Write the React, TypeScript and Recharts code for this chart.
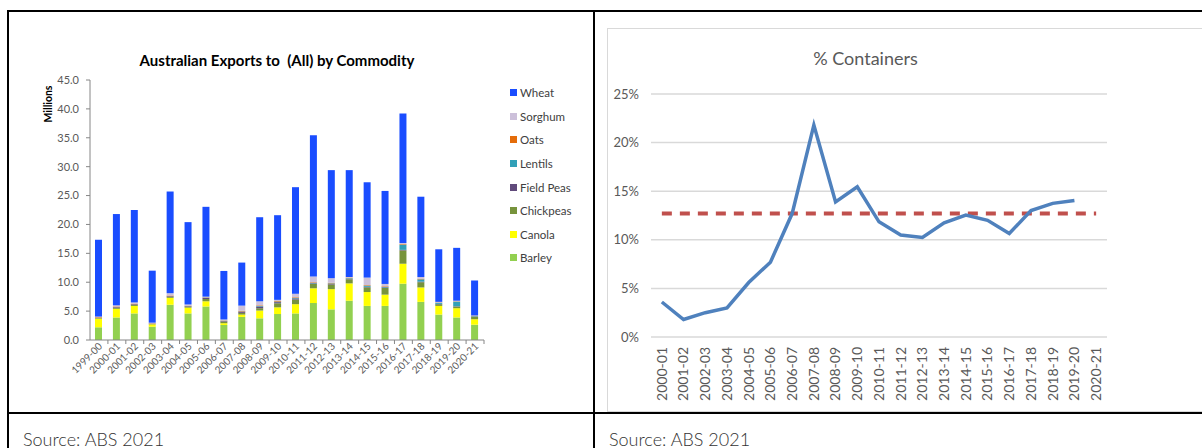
import {
  Bar,
  BarChart,
  CartesianGrid,
  Line,
  LineChart,
  ReferenceLine,
  XAxis,
  YAxis,
} from "recharts";

// ---- Left chart: Australian exports by commodity (millions of tonnes) ----
const exportYears = [
  "1999-00", "2000-01", "2001-02", "2002-03", "2003-04", "2004-05", "2005-06", "2006-07",
  "2007-08", "2008-09", "2009-10", "2010-11", "2011-12", "2012-13", "2013-14", "2014-15",
  "2015-16", "2016-17", "2017-18", "2018-19", "2019-20", "2020-21",
];
const barley = [2.2, 3.9, 4.6, 2.3, 6.1, 4.6, 5.8, 2.6, 4.0, 3.75, 4.5, 4.6, 6.4, 5.3, 6.8, 5.9, 5.9, 9.75, 6.6, 4.4, 3.9, 2.65];
const canola = [1.5, 1.5, 1.3, 0.4, 1.2, 1.0, 0.9, 0.3, 0.4, 1.35, 1.15, 1.6, 2.55, 3.5, 3.0, 2.4, 1.95, 3.45, 2.5, 1.5, 1.6, 0.95];
const chickpeas = [0.1, 0.2, 0.2, 0.1, 0.2, 0.2, 0.4, 0.3, 0.3, 0.4, 0.7, 0.8, 0.75, 0.8, 0.7, 0.8, 1.15, 2.3, 0.9, 0.3, 0.3, 0.45];
const fieldPeas = [0.05, 0.1, 0.1, 0.05, 0.1, 0.1, 0.2, 0.1, 0.2, 0.3, 0.2, 0.2, 0.1, 0.1, 0.1, 0.1, 0.1, 0.1, 0.1, 0.05, 0.05, 0.05];
const lentils = [0, 0, 0, 0, 0, 0, 0.05, 0.05, 0.05, 0.1, 0.1, 0.1, 0.1, 0.1, 0.1, 0.2, 0.1, 0.9, 0.4, 0.2, 0.8, 0.05];
const oats = [0.1, 0.1, 0.1, 0.05, 0.1, 0.05, 0.05, 0.05, 0.1, 0.1, 0.1, 0.1, 0.1, 0.1, 0.1, 0.1, 0.1, 0.1, 0.1, 0.05, 0.05, 0.05];
const sorghum = [0.1, 0.2, 0.2, 0.1, 0.4, 0.2, 0.1, 0.15, 0.9, 0.7, 0.2, 0.6, 1.0, 0.8, 0.1, 1.3, 0.4, 0.2, 0.3, 0.1, 0.1, 0.05];
const wheat = [13.3, 15.8, 16.0, 9.0, 17.6, 14.25, 15.55, 8.4, 7.45, 14.55, 14.65, 18.45, 24.45, 18.7, 18.5, 16.5, 16.1, 22.4, 13.9, 9.1, 9.15, 6.05];
const exportTicks = [0, 5, 10, 15, 20, 25, 30, 35, 40, 45];

// stacking order bottom -> top
const commodities = [
  { key: "Barley", values: barley, color: "#92d050" },
  { key: "Canola", values: canola, color: "#ffff00" },
  { key: "Chickpeas", values: chickpeas, color: "#77933c" },
  { key: "Field Peas", values: fieldPeas, color: "#604a7b" },
  { key: "Lentils", values: lentils, color: "#31a0b8" },
  { key: "Oats", values: oats, color: "#e46c0a" },
  { key: "Sorghum", values: sorghum, color: "#ccc0da" },
  { key: "Wheat", values: wheat, color: "#1a4dff" },
];

const exportRows = exportYears.map((year, i) => {
  const row: Record<string, string | number> = { year };
  commodities.forEach((c) => {
    row[c.key] = c.values[i];
  });
  return row;
});

// ---- Right chart: % containers ----
const containerYears = [
  "2000-01", "2001-02", "2002-03", "2003-04", "2004-05", "2005-06", "2006-07", "2007-08",
  "2008-09", "2009-10", "2010-11", "2011-12", "2012-13", "2013-14", "2014-15", "2015-16",
  "2016-17", "2017-18", "2018-19", "2019-20", "2020-21",
];
const containerPct = [3.6, 1.8, 2.5, 3.0, 5.6, 7.7, 12.7, 21.8, 13.9, 15.45, 11.85, 10.5, 10.25, 11.75, 12.55, 12.0, 10.65, 13.0, 13.75, 14.05, null];
const averagePct = 12.7;
const pctTicks = [0, 5, 10, 15, 20, 25];

const containerRows = containerYears.map((year, i) => ({ year, pct: containerPct[i] }));

const LEFT_W = 594;
const LEFT_H = 412;
const LEFT_PLOT_W = 394;
const HALF_BAND = LEFT_PLOT_W / exportYears.length / 2;

const RIGHT_PLOT_W = 456;
const RIGHT_HALF_BAND = RIGHT_PLOT_W / containerYears.length / 2;

const ExportTick = (props: any) => {
  const { x, y, payload } = props;
  return (
    <g>
      <line x1={x + HALF_BAND} x2={x + HALF_BAND} y1={y} y2={y + 4} stroke="#868686" />
      <text
        x={0}
        y={0}
        transform={`translate(${x + 4},${y + 7}) rotate(-45)`}
        textAnchor="end"
        fontSize={10}
        fill="#595959"
        fontFamily="Lato, sans-serif"
      >
        {payload.value}
      </text>
    </g>
  );
};

const ContainerTick = (props: any) => {
  const { x, y, payload } = props;
  return (
    <text
      x={0}
      y={0}
      dy="0.35em"
      transform={`translate(${x},${y + 10}) rotate(-90)`}
      textAnchor="end"
      fontSize={14}
      fill="#595959"
      fontFamily="Lato, sans-serif"
    >
      {payload.value}
    </text>
  );
};

const sourceStyle: React.CSSProperties = {
  position: "absolute",
  top: 428,
  fontFamily: "Lato, sans-serif",
  fontWeight: 300,
  fontSize: 18,
  color: "#333",
  whiteSpace: "nowrap",
};

function ExportsChart() {
  return (
    <div style={{ position: "absolute", left: 0, top: 0, width: LEFT_W, height: LEFT_H }}>
      <div
        style={{
          position: "absolute",
          left: 70,
          width: 414,
          top: 51,
          textAlign: "center",
          fontFamily: "Lato, sans-serif",
          fontWeight: 700,
          fontSize: 15,
          color: "#000",
          whiteSpace: "nowrap",
        }}
      >
        Australian Exports to&nbsp; (All) by Commodity
      </div>
      <BarChart
        width={LEFT_W}
        height={LEFT_H}
        data={exportRows}
        margin={{ top: 80, right: LEFT_W - 90 - LEFT_PLOT_W, bottom: 0, left: 40 }}
        barCategoryGap={0}
      >
        <XAxis
          dataKey="year"
          height={72}
          interval={0}
          tickSize={0}
          tickMargin={0}
          tickLine={false}
          axisLine={{ stroke: "#868686" }}
          tick={<ExportTick />}
        />
        <YAxis
          width={50}
          domain={[0, 45]}
          ticks={exportTicks}
          interval={0}
          tickSize={4}
          tickMargin={7}
          tickLine={{ stroke: "#868686" }}
          axisLine={{ stroke: "#868686" }}
          tickFormatter={(v) => Number(v).toFixed(1)}
          tick={{ fontSize: 11, fill: "#595959", fontFamily: "Lato, sans-serif" }}
          label={{
            content: (p: any) => (
              <text
                x={0}
                y={0}
                transform={`translate(${p.viewBox.x + 12},${p.viewBox.y + 24}) rotate(-90)`}
                textAnchor="middle"
                fontSize={10.5}
                fontWeight={700}
                fill="#000"
                fontFamily="Lato, sans-serif"
              >
                Millions
              </text>
            ),
          }}
        />
        {commodities.map((c) => (
          <Bar
            key={c.key}
            dataKey={c.key}
            stackId="exports"
            fill={c.color}
            barSize={7}
            isAnimationActive={false}
          />
        ))}
      </BarChart>
      <div style={{ position: "absolute", left: 510, top: 81, fontFamily: "Lato, sans-serif", fontSize: 11.5, color: "#404040" }}>
        {[...commodities].reverse().map((c) => (
          <div key={c.key} style={{ display: "flex", alignItems: "center", height: 23.6 }}>
            <span style={{ display: "inline-block", width: 7, height: 7, background: c.color, marginRight: 3 }} />
            {c.key}
          </div>
        ))}
      </div>
    </div>
  );
}

function ContainersChart() {
  return (
    <div style={{ position: "absolute", left: 608, top: 29, width: 594, height: 383 }}>
      <div
        style={{
          position: "absolute",
          left: 0,
          width: 515,
          top: 18,
          textAlign: "center",
          fontFamily: "Lato, sans-serif",
          fontSize: 18,
          color: "#595959",
          whiteSpace: "nowrap",
        }}
      >
        % Containers
      </div>
      <LineChart
        width={594}
        height={383}
        data={containerRows}
        margin={{ top: 65, right: 95, bottom: 0, left: 0 }}
      >
        <CartesianGrid vertical={false} stroke="#d9d9d9" strokeWidth={1.5} />
        <XAxis
          dataKey="year"
          height={75}
          interval={0}
          padding={{ left: RIGHT_HALF_BAND, right: RIGHT_HALF_BAND }}
          tickSize={0}
          tickMargin={0}
          tickLine={false}
          axisLine={false}
          tick={<ContainerTick />}
        />
        <YAxis
          width={43}
          domain={[0, 25]}
          ticks={pctTicks}
          interval={0}
          tickLine={false}
          tickMargin={6}
          axisLine={false}
          tickFormatter={(v) => `${v}%`}
          tick={{ fontSize: 13, fill: "#595959", fontFamily: "Lato, sans-serif" }}
        />
        <ReferenceLine
          segment={[
            { x: containerYears[0], y: averagePct },
            { x: containerYears[containerYears.length - 1], y: averagePct },
          ]}
          ifOverflow="visible"
          stroke="#c0504d"
          strokeWidth={4}
          strokeDasharray="10 8"
        />
        <Line
          type="linear"
          dataKey="pct"
          stroke="#4f81bd"
          strokeWidth={3.5}
          dot={false}
          isAnimationActive={false}
        />
      </LineChart>
    </div>
  );
}

export default function App() {
  return (
    <div
      style={{
        position: "absolute",
        left: 0,
        top: 0,
        width: 1202,
        height: 448,
        overflow: "hidden",
        background: "#fff",
      }}
    >
      {/* light frame around the right chart */}
      <div
        style={{
          position: "absolute",
          left: 607,
          top: 28,
          width: 620,
          height: 384,
          border: "1px solid #d9d9d9",
          boxSizing: "border-box",
        }}
      />
      <ExportsChart />
      <ContainersChart />

      {/* table rules */}
      <div style={{ position: "absolute", left: 7, top: 10, width: 1195, height: 2, background: "#000" }} />
      <div style={{ position: "absolute", left: 7, top: 412, width: 1195, height: 2, background: "#000" }} />
      <div style={{ position: "absolute", left: 7, top: 10, width: 2, height: 438, background: "#000" }} />
      <div style={{ position: "absolute", left: 593, top: 10, width: 2, height: 438, background: "#000" }} />

      <div style={{ ...sourceStyle, left: 23 }}>Source: ABS 2021</div>
      <div style={{ ...sourceStyle, left: 609 }}>Source: ABS 2021</div>
    </div>
  );
}
